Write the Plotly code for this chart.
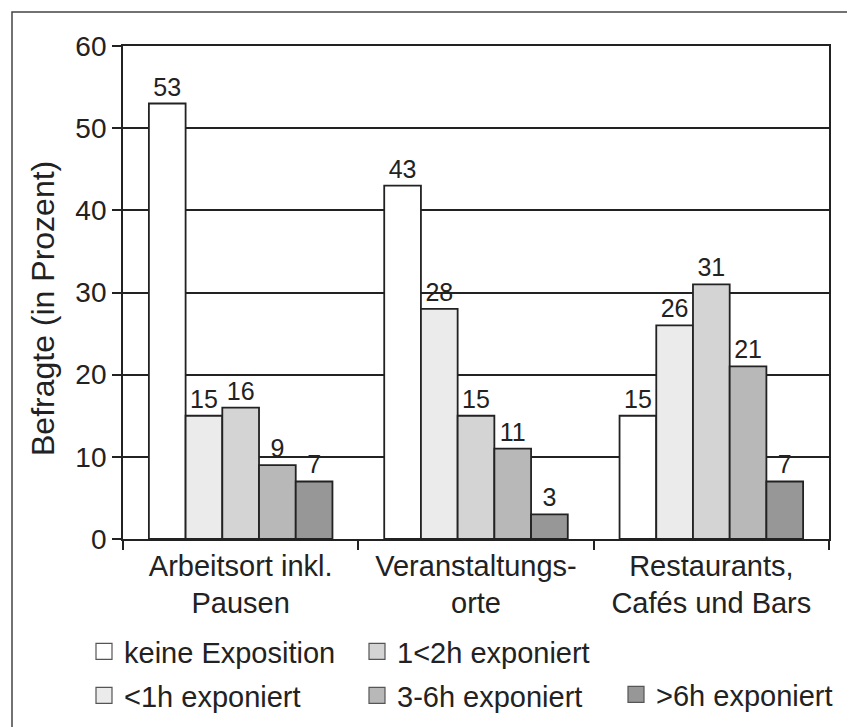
import plotly.graph_objects as go

categories = ["Arbeitsort inkl.<br>Pausen", "Veranstaltungs-<br>orte", "Restaurants,<br>Cafés und Bars"]
series_names = ["keine Exposition", "<1h exponiert", "1<2h exponiert", "3-6h exponiert", ">6h exponiert"]
keine = [53, 43, 15]
lt1h = [15, 28, 26]
h1_2 = [16, 15, 31]
h3_6 = [9, 11, 21]
gt6h = [7, 3, 7]
y_ticks = [0, 10, 20, 30, 40, 50, 60]
y_title = "Befragte (in Prozent)"

values = [keine, lt1h, h1_2, h3_6, gt6h]
colors = ["#ffffff", "#ebebeb", "#d4d4d4", "#b8b8b8", "#979797"]
legend_ids = ["legend", "legend2", "legend3", "legend4", "legend5"]
# legend text start (x px) and row centre (y px) for each entry (page pixels)
legend_pos = [(125, 653), (125, 697), (398, 653), (398, 697), (657, 696)]

W, H = 855, 727
OFF = 8  # default page body margin
# plot area in page pixels: x 123..829, y 46..539
L = 123 - OFF
R = W - (829 - OFF)
T = 46 - OFF
B = H - (539 - OFF)
pw, ph = W - L - R, H - T - B

def px_x(p):
    return (p - OFF - L) / pw

def px_y(p):
    return (H - B - (p - OFF)) / ph

FONT = "Liberation Sans, Arial, sans-serif"
INK = "#222222"
fig = go.Figure()
for name, vals, col in zip(series_names, values, colors):
    fig.add_trace(go.Bar(
        x=categories, y=vals, name=name, showlegend=False,
        marker=dict(color=col, line=dict(color=INK, width=1.8)),
        text=[str(v) for v in vals], textposition="outside",
        textfont=dict(size=25, color=INK, family=FONT),
        cliponaxis=False,
    ))

# legend proxies (larger square symbols than bar legend icons)
for name, col, lg in zip(series_names, colors, legend_ids):
    fig.add_trace(go.Scatter(
        x=[None], y=[None], mode="markers", name=name, legend=lg, showlegend=True,
        marker=dict(symbol="square", size=17, color=col, line=dict(color="#555555", width=1.2)),
    ))

leg_common = dict(orientation="v", xanchor="left", yanchor="top",
                  font=dict(size=29, color=INK, family=FONT),
                  bgcolor="rgba(0,0,0,0)", itemwidth=30, itemsizing="trace")
legends = {}
for lg, (tx, cy) in zip(legend_ids, legend_pos):
    legends[lg] = dict(x=px_x(tx - 41), y=px_y(cy - 27), **leg_common)

fig.update_layout(
    width=W, height=H,
    margin=dict(l=L, r=R, t=T, b=B, autoexpand=False),
    paper_bgcolor="white", plot_bgcolor="white",
    barmode="group", bargap=0.22, bargroupgap=0,
    font=dict(family=FONT, size=29, color=INK),
    showlegend=True,
    **legends,
    xaxis=dict(
        showline=True, linecolor=INK, linewidth=1.8, mirror=True,
        ticks="outside", tickson="boundaries", ticklen=9, tickcolor=INK, tickwidth=1.8,
        tickfont=dict(size=29, color=INK, family=FONT),
        showgrid=False, automargin=False,
    ),
    yaxis=dict(
        range=[0, 60], tickvals=y_ticks, ticktext=[str(v) for v in y_ticks],
        showline=True, linecolor=INK, linewidth=1.8, mirror=True,
        ticks="outside", ticklen=9, tickcolor=INK, tickwidth=1.8,
        showgrid=True, gridcolor=INK, gridwidth=1.8,
        zeroline=False, automargin=False,
        tickfont=dict(size=28, color=INK, family=FONT),
    ),
    annotations=[
        dict(text=y_title, xref="paper", yref="paper", x=px_x(43), y=px_y(309),
             textangle=-90, showarrow=False, xanchor="center", yanchor="middle",
             font=dict(size=32, color=INK, family=FONT)),
    ],
    shapes=[
        dict(type="rect", xref="paper", yref="paper",
             x0=px_x(12), x1=px_x(849), y0=px_y(745), y1=px_y(12),
             line=dict(color="#444444", width=1.5), fillcolor="rgba(0,0,0,0)", layer="below"),
    ],
)

fig.write_html("out.html")
